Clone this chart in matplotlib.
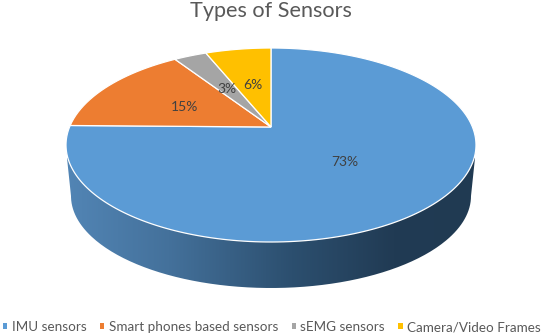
import numpy as np
import matplotlib
matplotlib.use("Agg")
import matplotlib.pyplot as plt
from matplotlib.colors import LinearSegmentedColormap
from matplotlib.patches import Patch, PathPatch
from matplotlib.path import Path
from matplotlib.transforms import Transform

categories = ["IMU sensors", "Smart phones based sensors", "sEMG sensors", "Camera/Video Frames"]
values = [73, 15, 3, 6]
colors = ["#5B9BD5", "#ED7D31", "#A5A5A5", "#FFC000"]
label_xy = [(345, 162), (185, 107), (227, 89), (253, 85)]
title = "Types of Sensors"

CX, CY, RX, RY = 271, 145, 205, 97
APEX_SHIFT = 18 / 97
plt.rcParams["font.family"] = ["Lato", "DejaVu Sans"]


class Tilt(Transform):
    """Perspective view of the unit pie disc, in pixel coordinates."""
    input_dims = output_dims = 2

    def transform_non_affine(self, xy):
        xy = np.asarray(xy, float)
        d = APEX_SHIFT
        den = 1 + xy[:, 1] * d
        u = xy[:, 0] * np.sqrt(1 - d * d) / den
        v = (xy[:, 1] + d) / den
        return np.column_stack([CX + RX * u, CY - RY * v])

    def transform_path_non_affine(self, path):
        pts = []
        for curve, _ in path.iter_bezier():
            pts.append(curve(np.linspace(0, 1, 14)))
        pts = np.vstack(pts)
        return Path(self.transform_non_affine(pts), closed=True)


fig = plt.figure(figsize=(5.5, 3.35), dpi=100)
ax = fig.add_axes([0, 0, 1, 1])

wedges, _ = ax.pie(values, colors=colors, startangle=90, counterclock=False,
                   wedgeprops=dict(edgecolor="white", linewidth=0.9))
tilt = Tilt()
for w in wedges:
    w.set_transform(tilt + ax.transData)
    w.set_zorder(3)

# side wall of the pie
t = np.linspace(0, np.pi, 200)
wall_x = np.r_[467 + 8, 271 + 200 * np.cos(t), 67]
wall_y = np.r_[158, 196 + 92 * np.sin(t), 158]
wall = PathPatch(Path(np.column_stack([wall_x, wall_y])), transform=ax.transData,
                 facecolor="none", edgecolor="none")
ax.add_patch(wall)
cmap = LinearSegmentedColormap.from_list(
    "side", [(0, "#5285B5"), (0.25, "#44719B"), (0.55, "#2C4F6F"), (0.8, "#213B54"), (1, "#203A52")])
im = ax.imshow(np.linspace(0, 1, 256)[None, :], cmap=cmap, aspect="auto",
               extent=(66, 476, 300, 150), zorder=1)
im.set_clip_path(wall)

ax.set_aspect("auto")
ax.set_xlim(0, 550)
ax.set_ylim(335, 0)
ax.axis("off")

for v, (x, y) in zip(values, label_xy):
    ax.text(x, y, f"{v}%", ha="center", va="center", fontsize=10, color="#404040", zorder=5)

ax.text(271, 11, title, ha="center", va="center", fontsize=15.6, color="#595959")

handles = [Patch(facecolor=c, edgecolor="none") for c in colors]
ax.legend(handles, categories, ncol=4, loc="center", bbox_to_anchor=(272 / 550, 1 - 327 / 335),
          frameon=False, fontsize=9.7, labelcolor="#595959",
          handlelength=0.3, handleheight=0.3, handletextpad=0.35, columnspacing=1.0,
          borderpad=0, borderaxespad=0)

fig.savefig("out.png", dpi=100)
